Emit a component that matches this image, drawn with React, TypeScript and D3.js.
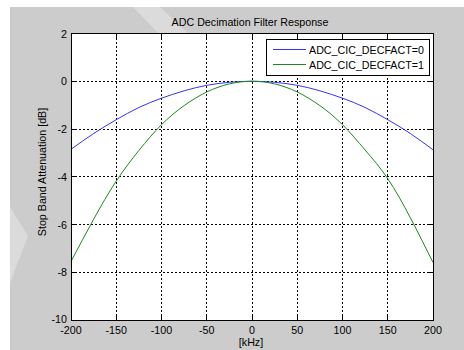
import React from "react";
import * as d3 from "d3";

const freqKHz = [-200, -175, -150, -125, -100, -75, -50, -25, 0, 25, 50, 75, 100, 125, 150, 175, 200];
const decfact0 = [-2.85, -2.19, -1.61, -1.1, -0.71, -0.4, -0.17, -0.045, 0, -0.045, -0.17, -0.4, -0.71, -1.1, -1.61, -2.19, -2.87];
const decfact1 = [-7.55, -5.78, -4.18, -2.9, -1.82, -1.02, -0.45, -0.11, 0, -0.11, -0.45, -1.02, -1.82, -2.88, -4.08, -5.72, -7.59];
const seriesNames = ["ADC_CIC_DECFACT=0", "ADC_CIC_DECFACT=1"];
const seriesColors = ["#3333ff", "#1a8a1a"];
const xTicks = [-200, -150, -100, -50, 0, 50, 100, 150, 200];
const yTicks = [-10, -8, -6, -4, -2, 0, 2];
const title = "ADC Decimation Filter Response";
const xLabel = "[kHz]";
const yLabel = "Stop Band Attenuation [dB]";

const W = 464, H = 350;
const L = 71, R = 433, T = 33.5, B = 320;
const FONT = "'Liberation Sans', Arial, Helvetica, sans-serif";
const FS = 10.7;

export default function App() {
  const x = d3.scaleLinear().domain([-200, 200]).range([L, R]);
  const y = d3.scaleLinear().domain([-10, 2]).range([B, T]);
  const line = d3
    .line<number>()
    .x((_, i) => x(freqKHz[i]))
    .y((d) => y(d))
    .curve(d3.curveNatural);
  const series = [decfact0, decfact1];
  const tl = 4;

  return (
    <svg width={W} height={H} style={{ position: "absolute", left: 0, top: 0 }} fontFamily={FONT}>
      <rect x={0} y={0} width={W} height={H} fill="#ffffff" />
      <rect x={10} y={7} width={W - 10} height={H - 7} fill="#cccccc" />
      {/* faint watermark stripes */}
      <polygon points="133,7 160,7 200,45 170,45" fill="#ffffff" opacity={0.3} />
      <polygon points="10,207 28,236 10,283" fill="#ffffff" opacity={0.3} />
      <rect x={L} y={T} width={R - L} height={B - T} fill="#ffffff" />
      {/* grid */}
      {xTicks.filter((t) => t > -200 && t < 200).map((t) => (
        <line key={"gx" + t} x1={x(t)} x2={x(t)} y1={T} y2={B} stroke="#000" strokeWidth={1} strokeDasharray="2,2" shapeRendering="crispEdges" />
      ))}
      {yTicks.filter((t) => t > -10 && t < 2).map((t) => (
        <line key={"gy" + t} x1={L} x2={R} y1={y(t)} y2={y(t)} stroke="#000" strokeWidth={1} strokeDasharray="2,2" shapeRendering="crispEdges" />
      ))}
      {/* curves */}
      {series.map((s, i) => (
        <path key={"s" + i} d={line(s) || ""} fill="none" stroke={seriesColors[i]} strokeWidth={1} />
      ))}
      {/* ticks */}
      {xTicks.map((t) => (
        <g key={"tx" + t}>
          <line x1={x(t)} x2={x(t)} y1={B} y2={B - tl} stroke="#000" shapeRendering="crispEdges" />
          <line x1={x(t)} x2={x(t)} y1={T} y2={T + tl} stroke="#000" shapeRendering="crispEdges" />
          <text x={x(t)} y={334} textAnchor="middle" fontSize={FS} fill="#000">{t}</text>
        </g>
      ))}
      {yTicks.map((t) => (
        <g key={"ty" + t}>
          <line x1={L} x2={L + tl} y1={y(t)} y2={y(t)} stroke="#000" shapeRendering="crispEdges" />
          <line x1={R} x2={R - tl} y1={y(t)} y2={y(t)} stroke="#000" shapeRendering="crispEdges" />
          <text x={67} y={y(t) + (t === -10 ? 2.5 : 4)} textAnchor="end" fontSize={FS} fill="#000">{t}</text>
        </g>
      ))}
      <rect x={L} y={T} width={R - L} height={B - T} fill="none" stroke="#000" strokeWidth={1} shapeRendering="crispEdges" />
      {/* title & labels */}
      <text x={250} y={26} textAnchor="middle" fontSize={FS} fill="#000">{title}</text>
      <text x={251} y={346} textAnchor="middle" fontSize={FS} fill="#000">{xLabel}</text>
      <text transform={`translate(46,172) rotate(-90)`} textAnchor="middle" fontSize={FS} fill="#000">{yLabel}</text>
      {/* legend */}
      <rect x={266} y={39} width={163} height={36} fill="#ffffff" stroke="#000" strokeWidth={1} shapeRendering="crispEdges" />
      {seriesNames.map((n, i) => (
        <g key={"lg" + i}>
          <line x1={273} x2={306} y1={49.5 + i * 15} y2={49.5 + i * 15} stroke={seriesColors[i]} strokeWidth={1} />
          <text x={309} y={53.5 + i * 15} fontSize={FS} fill="#000">{n}</text>
        </g>
      ))}
    </svg>
  );
}
